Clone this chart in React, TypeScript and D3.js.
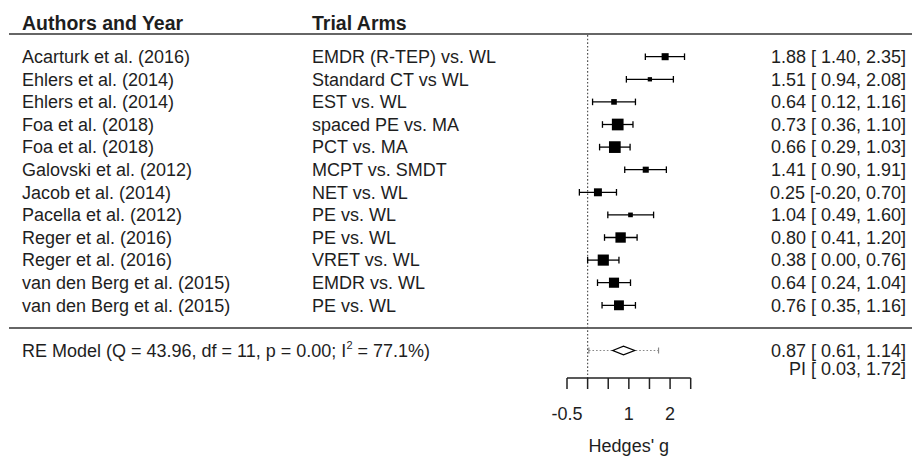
import * as d3 from "d3";

const width = 912;
const height = 460;

const authors = [
  "Acarturk et al. (2016)",
  "Ehlers et al. (2014)",
  "Ehlers et al. (2014)",
  "Foa et al. (2018)",
  "Foa et al. (2018)",
  "Galovski et al. (2012)",
  "Jacob et al. (2014)",
  "Pacella et al. (2012)",
  "Reger et al. (2016)",
  "Reger et al. (2016)",
  "van den Berg et al. (2015)",
  "van den Berg et al. (2015)",
];
const arms = [
  "EMDR (R-TEP) vs. WL",
  "Standard CT vs WL",
  "EST vs. WL",
  "spaced PE vs. MA",
  "PCT vs. MA",
  "MCPT vs. SMDT",
  "NET vs. WL",
  "PE vs. WL",
  "PE vs. WL",
  "VRET vs. WL",
  "EMDR vs. WL",
  "PE vs. WL",
];
const est = [1.88, 1.51, 0.64, 0.73, 0.66, 1.41, 0.25, 1.04, 0.8, 0.38, 0.64, 0.76];
const lower = [1.4, 0.94, 0.12, 0.36, 0.29, 0.9, -0.2, 0.49, 0.41, 0.0, 0.24, 0.35];
const upper = [2.35, 2.08, 1.16, 1.1, 1.03, 1.91, 0.7, 1.6, 1.2, 0.76, 1.04, 1.16];

const reEst = 0.87;
const reLower = 0.61;
const reUpper = 1.14;
const piLower = 0.03;
const piUpper = 1.72;
const reLabel = "RE Model (Q = 43.96, df = 11, p = 0.00; I";
const reLabelEnd = " = 77.1%)";

const xTicks = [-0.5, 0, 0.5, 1, 1.5, 2, 2.5];
const xTickLabels = ["-0.5", "", "", "1", "", "2", ""];

// plain hyphen for negatives, like the R output
const fmt = d3.formatLocale({ decimal: ".", thousands: ",", grouping: [3], currency: ["", ""], minus: "-" }).format(".2f");
const ci = (e: number, l: number, u: number) => {
  const lo = l < 0 ? fmt(l) : " " + fmt(l);
  return `${fmt(e)} [${lo}, ${fmt(u)}]`;
};

const x = d3.scaleLinear().domain([-0.5, 2.5]).range([567, 690.7]);
// rows 0..11 studies, 12 separator, 13 RE model
const y = d3.scaleLinear().domain([0, 13]).range([56.7, 350.5]);

// square size from precision (1/se), like metafor's psize
const prec = lower.map((l, i) => 3.92 / (upper[i] - l));
const size = d3
  .scaleLinear()
  .domain(d3.extent(prec) as [number, number])
  .range([4.3, 11.7]);

const axisY = 378;
const textCol = "#1e1e1e";
const font = "'Liberation Sans', Arial, sans-serif";
const fs = 18;

export default function App() {
  const x0 = x(0);
  const re = y(13);
  const diamond = `M${x(reLower)},${re} L${x(reEst)},${re - 4.3} L${x(reUpper)},${re} L${x(reEst)},${re + 4.3} Z`;

  return (
    <svg
      width={width}
      height={height}
      style={{ position: "absolute", left: 0, top: 0, background: "white", fontFamily: font }}
    >
      {/* headers */}
      <g fontWeight="bold" fontSize={19.5} fill={textCol}>
        <text x={22} y={y(-1.5)} dy="0.35em">Authors and Year</text>
        <text x={312} y={y(-1.5)} dy="0.35em">Trial Arms</text>
      </g>
      <line x1={9} x2={width} y1={y(-1)} y2={y(-1)} stroke="#666" strokeWidth={2} />
      <line x1={9} x2={width} y1={y(12)} y2={y(12)} stroke="#666" strokeWidth={2} />

      {/* reference line at 0 */}
      <line
        x1={x0}
        x2={x0}
        y1={y(-1) + 1}
        y2={axisY}
        stroke="#555"
        strokeWidth={1.2}
        strokeDasharray="1.6,2"
      />

      {/* studies */}
      <g fontSize={fs} fill={textCol}>
        {authors.map((a, i) => (
          <g key={i}>
            <text x={22} y={y(i)} dy="0.35em">{a}</text>
            <text x={312} y={y(i)} dy="0.35em">{arms[i]}</text>
            <text x={906} y={y(i)} dy="0.35em" textAnchor="end" style={{ whiteSpace: "pre" }}>
              {ci(est[i], lower[i], upper[i])}
            </text>
          </g>
        ))}
      </g>
      <g stroke="#000" strokeWidth={1.3}>
        {est.map((e, i) => {
          const s = size(prec[i]);
          return (
            <g key={i}>
              <line x1={x(lower[i])} x2={x(upper[i])} y1={y(i)} y2={y(i)} />
              <line x1={x(lower[i])} x2={x(lower[i])} y1={y(i) - 3.3} y2={y(i) + 3.3} />
              <line x1={x(upper[i])} x2={x(upper[i])} y1={y(i) - 3.3} y2={y(i) + 3.3} />
              <rect x={x(e) - s / 2} y={y(i) - s / 2} width={s} height={s} fill="#000" stroke="none" />
            </g>
          );
        })}
      </g>

      {/* RE model */}
      <g stroke="#888" strokeWidth={1.2}>
        <line x1={x(piLower)} x2={x(piUpper)} y1={re} y2={re} strokeDasharray="1.6,2" />
        <line x1={x(piLower)} x2={x(piLower)} y1={re - 3} y2={re + 3} />
        <line x1={x(piUpper)} x2={x(piUpper)} y1={re - 3} y2={re + 3} />
      </g>
      <path d={diamond} fill="white" stroke="#000" strokeWidth={1.3} />
      <g fontSize={fs} fill={textCol}>
        <text x={22} y={re} dy="0.35em">
          {reLabel}
          <tspan fontSize={11} dy="-0.75em">2</tspan>
          <tspan dy="0.45em">{reLabelEnd}</tspan>
        </text>
        <text x={906} y={re} dy="0.35em" textAnchor="end" style={{ whiteSpace: "pre" }}>
          {ci(reEst, reLower, reUpper)}
        </text>
        <text x={906} y={re + 18} dy="0.35em" textAnchor="end" style={{ whiteSpace: "pre" }}>
          {`PI [ ${fmt(piLower)}, ${fmt(piUpper)}]`}
        </text>
      </g>

      {/* x axis */}
      <g stroke="#222" strokeWidth={1.5}>
        <line x1={x(-0.5)} x2={x(2.5)} y1={axisY} y2={axisY} />
        {xTicks.map((t) => (
          <line key={t} x1={x(t)} x2={x(t)} y1={axisY} y2={axisY + 11} />
        ))}
      </g>
      <g fontSize={fs} fill={textCol} textAnchor="middle">
        {xTicks.map((t, i) => (
          <text key={t} x={x(t)} y={414} dy="0.35em">{xTickLabels[i]}</text>
        ))}
        <text x={(x(-0.5) + x(2.5)) / 2} y={446} dy="0.35em">Hedges' g</text>
      </g>
    </svg>
  );
}
